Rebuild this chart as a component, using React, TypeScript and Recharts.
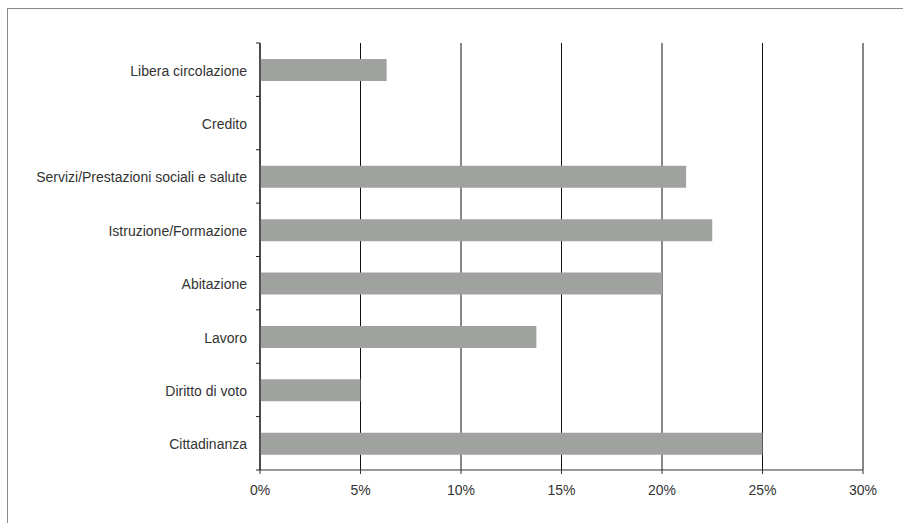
import React from 'react';
import { BarChart, Bar, XAxis, YAxis, CartesianGrid } from 'recharts';

const categories = [
  'Libera circolazione',
  'Credito',
  'Servizi/Prestazioni sociali e salute',
  'Istruzione/Formazione',
  'Abitazione',
  'Lavoro',
  'Diritto di voto',
  'Cittadinanza',
];
const values = [6.3, 0, 21.2, 22.5, 20.0, 13.75, 5.0, 25.0];
const xTicks = [0, 5, 10, 15, 20, 25, 30];

const data = categories.map((name, i) => ({ name, value: values[i] }));

const FONT = '"Liberation Sans Narrow", "Liberation Sans", Arial, sans-serif';
const PLOT_TOP = 43;
const PLOT_BOTTOM = 470;
const AXIS_X = 260;
const BAND = (PLOT_BOTTOM - PLOT_TOP) / categories.length;

const CategoryTick = (props: any) => {
  const { y, payload, index } = props;
  const last = index === categories.length - 1;
  return (
    <g>
      <text
        x={AXIS_X - 13}
        y={y + 1}
        textAnchor="end"
        dominantBaseline="central"
        fontSize={14}
        fontFamily={FONT}
        fill="#333"
      >
        {payload.value}
      </text>
      <line x1={AXIS_X - 4} x2={AXIS_X} y1={y - BAND / 2} y2={y - BAND / 2} stroke="#222" />
      {last && <line x1={AXIS_X - 4} x2={AXIS_X} y1={y + BAND / 2} y2={y + BAND / 2} stroke="#222" />}
    </g>
  );
};

export default function App() {
  return (
    <div style={{ position: 'absolute', left: 0, top: 0, width: 903, height: 523, background: '#fff', overflow: 'hidden' }}>
      <div
        style={{
          position: 'absolute',
          left: 7,
          top: 8,
          right: -2,
          bottom: -2,
          borderTop: '1px solid #8a8a8a',
          borderLeft: '1px solid #8a8a8a',
        }}
      />
      <div style={{ position: 'absolute', left: 0, top: 0 }}>
        <BarChart
          width={903}
          height={523}
          data={data}
          layout="vertical"
          margin={{ top: PLOT_TOP, right: 40, bottom: 23, left: 18 }}
          barSize={22}
        >
          <CartesianGrid horizontal={false} stroke="#111" strokeWidth={1} />
          <XAxis
            type="number"
            domain={[0, 30]}
            ticks={xTicks}
            interval={0}
            tickFormatter={(v: number) => `${v}%`}
            axisLine={{ stroke: '#333' }}
            tickLine={{ stroke: '#333' }}
            tickSize={4}
            height={30}
            tick={{ fill: '#333', fontSize: 14, fontFamily: FONT, dy: 9 }}
          />
          <YAxis
            type="category"
            dataKey="name"
            width={242}
            interval={0}
            axisLine={{ stroke: '#111' }}
            tickLine={false}
            tick={<CategoryTick />}
          />
          <Bar dataKey="value" fill="#a0a2a0" isAnimationActive={false} />
        </BarChart>
      </div>
    </div>
  );
}
